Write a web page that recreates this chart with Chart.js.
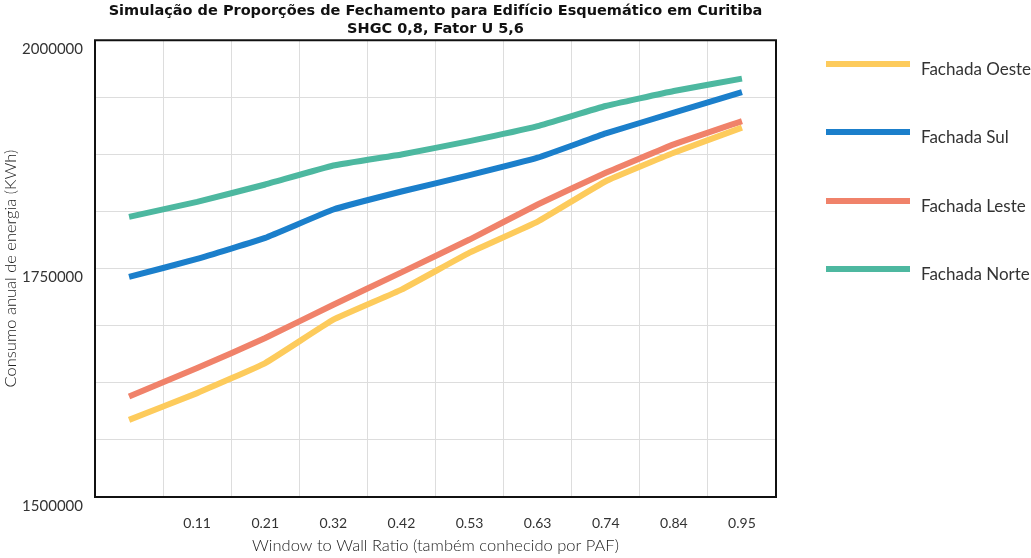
<!DOCTYPE html>
<html>
<head>
<meta charset="utf-8">
<script src="https://cdn.jsdelivr.net/npm/chart.js@4.4.0/dist/chart.umd.min.js"></script>
<style>
  html, body { margin: 0; padding: 0; background: #fff; }
  #wrap { position: relative; width: 1031px; height: 558px; }
  #legend { position: absolute; left: 826px; top: 0; font-family: Lato, "Open Sans", sans-serif; font-size: 17px; color: #333; }
  .item { position: absolute; left: 0; width: 220px; height: 20px; }
  .item .ln { position: absolute; left: 0; top: 0; width: 84px; height: 6px; }
  .item .tx { position: absolute; left: 95px; top: -3px; white-space: nowrap; }
</style>
</head>
<body>
<div id="wrap">
  <canvas id="chart" width="1031" height="558"></canvas>
  <div id="legend"></div>
</div>
<script>
// WWR categories (first point has no label on the axis)
const labels = ['', '0.11', '0.21', '0.32', '0.42', '0.53', '0.63', '0.74', '0.84', '0.95'];

const oeste = [1584400, 1613700, 1646600, 1694100, 1727000, 1767500, 1801500, 1845700, 1876900, 1904300];
const sul   = [1740900, 1760600, 1783700, 1814700, 1834400, 1852300, 1871400, 1898000, 1920700, 1943300];
const leste = [1610000, 1641100, 1674000, 1710500, 1745900, 1781800, 1820200, 1854900, 1886000, 1911500];
const norte = [1806700, 1823100, 1842100, 1862900, 1875000, 1889600, 1906000, 1928000, 1944400, 1958000];

const seriesNames = ['Fachada Oeste', 'Fachada Sul', 'Fachada Leste', 'Fachada Norte'];
const seriesColors = ['#FDCB5C', '#1B7FCB', '#F0826A', '#4DB8A0'];

const FONT = 'Lato, "Open Sans", sans-serif';

// draws the black frame around the plot area
const frame = {
    id: 'frame',
    afterDraw(chart) {
        const { ctx, chartArea: a } = chart;
        ctx.save();
        ctx.strokeStyle = '#111';
        ctx.lineWidth = 2;
        ctx.strokeRect(a.left, a.top, a.right - a.left, a.bottom - a.top);
        ctx.restore();
    }
};

const datasets = [oeste, sul, leste, norte].map((d, i) => ({
    label: seriesNames[i],
    data: d,
    borderColor: seriesColors[i],
    backgroundColor: seriesColors[i],
    borderWidth: 6,
    pointRadius: 0,
    tension: 0.1,
    fill: false
}));

new Chart(document.getElementById('chart'), {
    type: 'line',
    data: { labels, datasets },
    plugins: [frame],
    options: {
        responsive: false,
        animation: false,
        layout: { padding: { left: 0, right: 255, top: 2, bottom: 2 } },
        plugins: {
            legend: { display: false },
            tooltip: { enabled: false },
            title: {
                display: true,
                fullSize: false,
                text: ['Simulação de Proporções de Fechamento para Edifício Esquemático em Curitiba', 'SHGC 0,8, Fator U 5,6'],
                color: '#111',
                font: { family: '"DejaVu Sans", sans-serif', size: 14.5, weight: 'bold', lineHeight: 1.25 },
                padding: { top: 0, bottom: 2 }
            }
        },
        scales: {
            x: {
                offset: true,
                grid: { offset: true, color: '#ddd', drawTicks: false },
                border: { display: false },
                ticks: { color: '#333', font: { family: FONT, size: 14 }, padding: 18 },
                title: { display: true, text: 'Window to Wall Ratio (também conhecido por PAF)', color: '#222', font: { family: FONT, size: 16.5, weight: 300 }, padding: { top: 0, bottom: 0 } },
                afterFit: s => { s.height = 59; }
            },
            y: {
                min: 1500000,
                max: 2000000,
                grid: { color: '#ddd', drawTicks: false },
                border: { display: false },
                ticks: {
                    stepSize: 62500,
                    color: '#333',
                    font: { family: FONT, size: 15 },
                    padding: 12,
                    labelOffset: 9,
                    autoSkip: false,
                    callback: v => (v % 250000 === 0 ? String(v) : '')
                },
                title: { display: true, text: 'Consumo anual de energia (KWh)', color: '#222', font: { family: FONT, size: 16.5, weight: 300 }, padding: { top: 1, bottom: 0 } },
                afterFit: s => { s.width = 95; }
            }
        }
    }
});

// legend on the right
const legend = document.getElementById('legend');
const legendTops = [61, 129, 198, 266];
seriesNames.forEach((name, i) => {
    const it = document.createElement('div');
    it.className = 'item';
    it.style.top = legendTops[i] + 'px';
    it.innerHTML = '<div class="ln" style="background:' + seriesColors[i] + '"></div><div class="tx">' + name + '</div>';
    legend.appendChild(it);
});
</script>
</body>
</html>
